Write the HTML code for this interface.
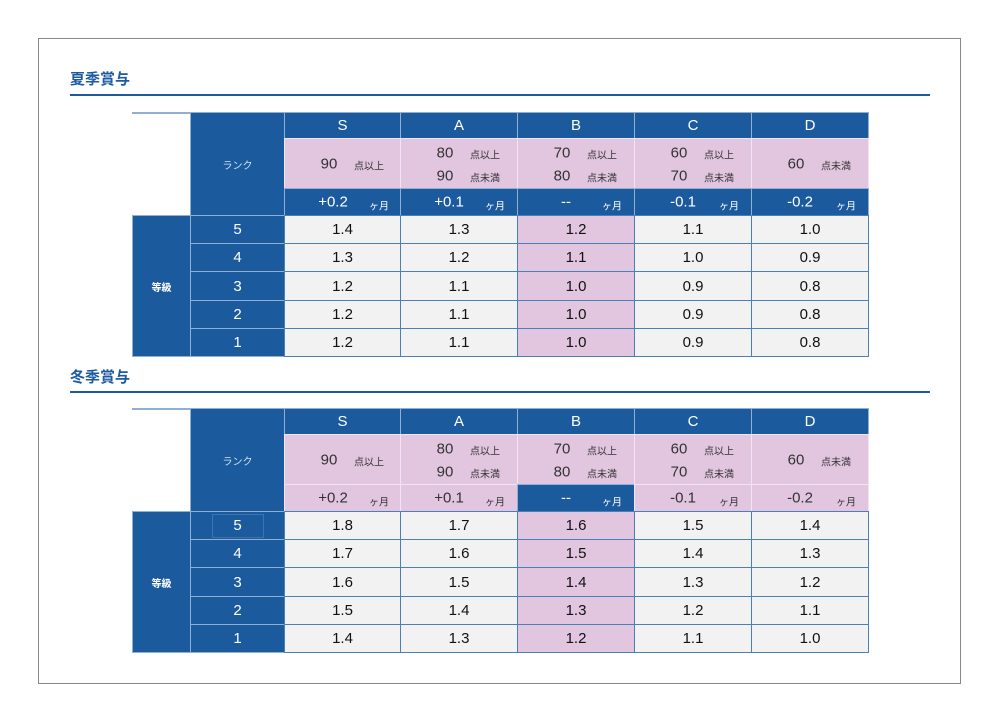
<!DOCTYPE html>
<html><head><meta charset="utf-8">
<style>
body{margin:0;background:#fff;width:1000px;height:723px;position:relative;overflow:hidden;font-family:"Liberation Sans","Noto Sans CJK JP",sans-serif;}
.frame{position:absolute;left:38px;top:38px;width:923px;height:646px;border:1px solid #888;box-sizing:border-box;}
.title{position:absolute;left:70px;font-size:15px;font-weight:bold;color:#1e5aa0;}
.rule{position:absolute;left:70px;width:860px;height:2px;background:#1e5aa0;}
.c{position:absolute;box-sizing:border-box;display:flex;align-items:center;justify-content:center;}
.blue{background:#1c5a9e;color:#fff;border:1px solid #8fb0d4;}
.pink{background:#e2c5de;color:#333;border:1px solid #f2e4f0;}
.gray{background:#f2f2f2;color:#111;border:1px solid #4a7fb8;}
.pinkd{background:#e2c5de;color:#111;border:1px solid #4a7fb8;}
.big{font-size:15px;}
.sm{font-size:10px;}
.ab{position:absolute;transform:translate(-50%,-50%);white-space:nowrap;}
</style></head><body>
<div class="frame"></div>
<div class="title" style="top:68px">夏季賞与</div>
<div class="rule" style="top:94px"></div>
<div class="title" style="top:366px">冬季賞与</div>
<div class="rule" style="top:391px"></div>
<div id="root"></div>
<script>
const ranks=["S","A","B","C","D"];
const lower=["90","80","70","60",""];
const upper=["","90","80","70","60"];
const months=["+0.2","+0.1","--","-0.1","-0.2"];
const grades=["5","4","3","2","1"];
const summer=[[1.4,1.3,1.2,1.1,1.0],[1.3,1.2,1.1,1.0,0.9],[1.2,1.1,1.0,0.9,0.8],[1.2,1.1,1.0,0.9,0.8],[1.2,1.1,1.0,0.9,0.8]];
const winter=[[1.8,1.7,1.6,1.5,1.4],[1.7,1.6,1.5,1.4,1.3],[1.6,1.5,1.4,1.3,1.2],[1.5,1.4,1.3,1.2,1.1],[1.4,1.3,1.2,1.1,1.0]];
const colX=[284,400,517,634,751,868];
const root=document.getElementById('root');
function cell(x,y,w,h,cls,html,name){
  const d=document.createElement('div');
  d.className='c '+cls;
  d.style.cssText=`left:${x}px;top:${y}px;width:${w+1}px;height:${h+1}px;`;
  d.innerHTML=html;
  
  
  root.appendChild(d);return d;
}
function pair(num,lab,y){
  return `<span class="ab big" style="left:44px;top:${y}px">${num}</span><span class="ab sm" style="left:84px;top:${y+1}px">${lab}</span>`;
}
function table(top,data,key,winterStyle){
  const tl=cell(132,top,58,103,'','',key+'-corner');
  tl.style.borderTop='2px solid #8fb0d4';
  cell(190,top,94,103,'blue','<span style="font-size:10px;color:#cfe0f2">ランク</span>',key+'-rank-label');
  for(let i=0;i<5;i++){
    const x=colX[i],w=colX[i+1]-x;
    cell(x,top,w,26,'blue big',ranks[i],key+'-rank-'+ranks[i]);
    let inner;
    if(lower[i]&&upper[i]) inner=pair(lower[i],'点以上',14)+pair(upper[i],'点未満',37);
    else if(lower[i]) inner=pair(lower[i],'点以上',25);
    else inner=pair(upper[i],'点未満',25);
    cell(x,top+26,w,50,'pink',inner,key+'-score-range-'+ranks[i]);
    const blueM=!winterStyle||i===2;
    cell(x,top+76,w,27,blueM?'blue':'pink',`<span class="ab big" style="left:48px;top:13px">${months[i]}</span><span class="ab sm" style="left:94px;top:16px">ヶ月</span>`,key+'-months-'+ranks[i]);
  }
  const y0=top+103,rh=28.2;
  cell(132,y0,58,rh*5,'blue','<span style="font-size:10px;font-weight:bold">等級</span>',key+'-grade-label');
  for(let r=0;r<5;r++){
    const y=Math.round(y0+r*rh),h=Math.round(y0+(r+1)*rh)-y;
    const g=cell(190,y,94,h,'blue big',grades[r],key+'-grade-'+grades[r]);
    if(winterStyle&&r===0) g.innerHTML='<span style="display:flex;align-items:center;justify-content:center;width:50px;height:22px;border:1px solid #3d73b0">5</span>';
    for(let i=0;i<5;i++){
      const x=colX[i],w=colX[i+1]-x;
      cell(x,y,w,h,(i===2?'pinkd':'gray')+' big',data[r][i].toFixed(1),key+'-value-g'+grades[r]+'-'+ranks[i]);
    }
  }
}
table(112,summer,'summer',false);
table(408,winter,'winter',true);
</script>
</body></html>
